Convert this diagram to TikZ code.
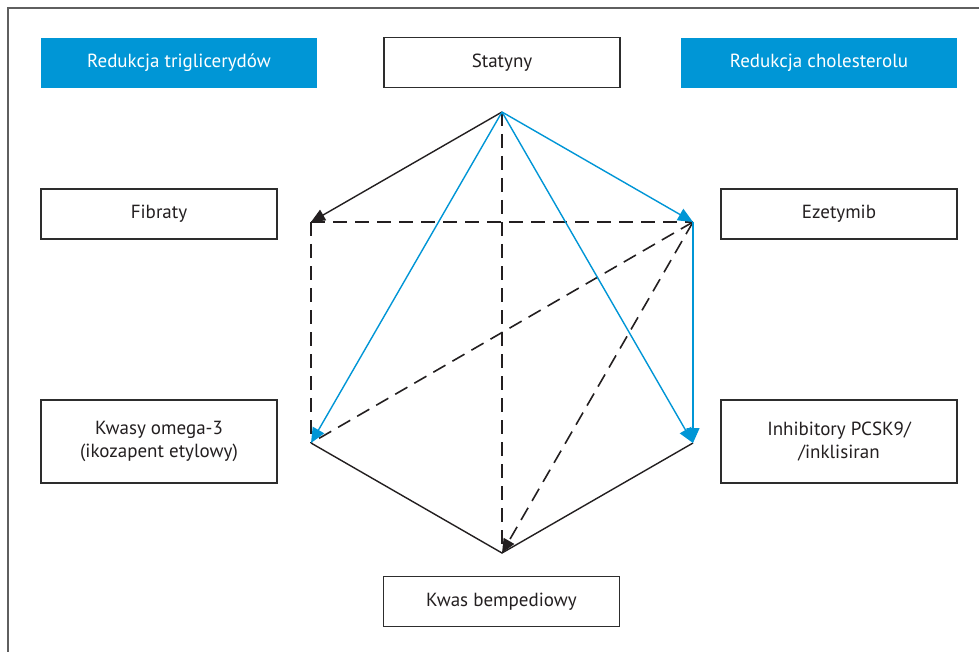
\documentclass[tikz,border=0pt]{standalone}
\usepackage{fontspec}
\setmainfont{PT Sans}
\usetikzlibrary{arrows.meta}
\definecolor{mblue}{RGB}{0,150,214}
\definecolor{framecol}{RGB}{95,95,95}
\definecolor{boxline}{RGB}{45,45,45}
\definecolor{txt}{RGB}{35,31,32}
\begin{document}
\begin{tikzpicture}[x=1pt,y=-1pt,
  box/.style={draw=boxline, line width=1.1pt, fill=white, minimum width=236pt, minimum height=50pt, inner sep=0pt, font=\fontsize{19}{23}\selectfont, text=txt, align=center},
  head/.style={fill=mblue, minimum width=276pt, minimum height=50pt, inner sep=0pt, font=\fontsize{19}{23}\selectfont, text=white},
  sline/.style={line width=1.4pt, draw=txt},
  bline/.style={line width=1.4pt, draw=mblue},
  dline/.style={line width=1.6pt, draw=txt, dash pattern=on 14pt off 8pt},
  btip/.style={-{Triangle[length=15pt,width=13pt,fill=mblue]}},
  ktip/.style={-{Triangle[length=14pt,width=12pt,fill=txt]}}
]
\useasboundingbox (0,0) rectangle (979,652);
\fill[white] (0,0) rectangle (979,652);
% frame
\draw[framecol, line width=1.3pt] (8,652) -- (8,8) -- (979,8);
% boxes
\node[head] (trig) at (179,63) {Redukcja triglicerydów};
\node[head] (chol) at (819,63) {Redukcja cholesterolu};
\node[box] (stat) at (502,62.5) {Statyny};
\node[box] (fib) at (159,214) {Fibraty};
\node[box] (eze) at (839,214) {Ezetymib};
\node[box, minimum height=83pt] (omega) at (159,441.5) {Kwasy omega-3\\(ikozapent etylowy)};
\node[box, minimum height=83pt] (pcsk) at (839,441.5) {Inhibitory PCSK9/\\/inklisiran};
\node[box] (bemp) at (501.5,601.5) {Kwas bempediowy};
% hexagon vertices
\coordinate (T) at (502,112);
\coordinate (UL) at (311,222);
\coordinate (UR) at (693,222);
\coordinate (LL) at (311,443);
\coordinate (LR) at (693,443);
\coordinate (B) at (502,553);
% dashed black
\draw[dline] (UL) -- (UR);
\draw[dline] (UL) -- (LL);
\draw[dline] (T) -- (B);
\draw[dline] (UR) -- (LL);
\draw[dline, ktip] (UR) -- (B);
% solid black
\draw[sline] (LL) -- (B) -- (LR);
\draw[sline, ktip] (T) -- (UL);
% blue
\draw[bline, btip] (T) -- (UR);
\draw[bline, btip] (T) -- (LL);
\draw[bline, btip] (T) -- (LR);
\draw[bline, btip] (UR) -- (LR);
\end{tikzpicture}
\end{document}
